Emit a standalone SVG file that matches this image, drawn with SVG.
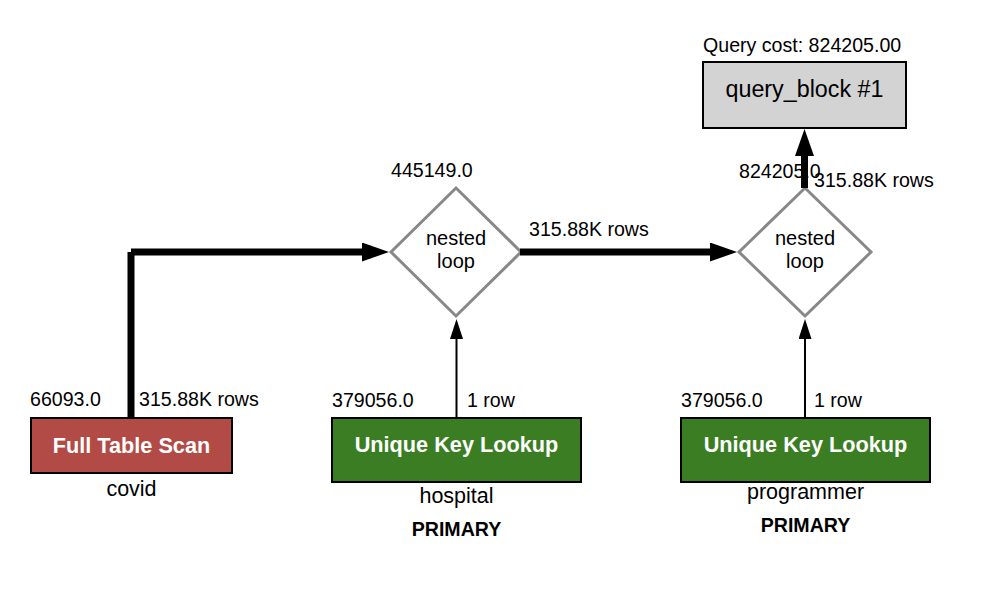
<svg xmlns="http://www.w3.org/2000/svg" width="994" height="604" viewBox="0 0 994 604">
<style>
text{font-family:"Liberation Sans",Arial,Helvetica,sans-serif;fill:#000}
.lbl{font-size:19.6px}
.nm{font-size:21.5px}
.nl{font-size:20px;text-anchor:middle}
.ttl{font-size:21.7px;font-weight:bold;fill:#fff;text-anchor:middle}
.key{font-size:19.6px;font-weight:bold;text-anchor:middle}
.mid{text-anchor:middle}
.box{stroke:#000;stroke-width:2}
.dia{fill:#fff;stroke:#888;stroke-width:3}
.thick{fill:none;stroke:#000;stroke-width:7}
.thin{fill:none;stroke:#000;stroke-width:2}
</style>
<defs>
<marker id="ah" markerUnits="userSpaceOnUse" markerWidth="28" markerHeight="20" refX="1" refY="9.5" orient="auto"><path d="M0,0 L27,9.5 L0,19 z" fill="#000"/></marker>
<marker id="ahs" markerUnits="userSpaceOnUse" markerWidth="21" markerHeight="14" refX="1" refY="6.5" orient="auto"><path d="M0,0 L20,6.5 L0,13 z" fill="#000"/></marker>
</defs>
<rect width="994" height="604" fill="#fff"/>
<g id="query_block">
<text class="lbl" x="703" y="52">Query cost: 824205.00</text>
<rect class="box" x="703" y="62" width="203" height="66" fill="#d3d3d3"/>
<text class="mid" x="804.5" y="97" font-size="23.3">query_block #1</text>
</g>
<g id="nested_loop_1">
<text class="lbl" x="391" y="177">445149.0</text>
<polygon class="dia" points="456,188 521,252 456,316 391,252"/>
<text class="nl" x="456" y="245">nested</text>
<text class="nl" x="456" y="268">loop</text>
</g>
<g id="nested_loop_2">
<text class="lbl" x="739" y="177.5">824205.0</text>
<polygon class="dia" points="805,188 871,252 805,316 739,252"/>
<text class="nl" x="805" y="245">nested</text>
<text class="nl" x="805" y="268">loop</text>
</g>
<g id="full_table_scan">
<text class="lbl" x="30" y="406">66093.0</text>
<rect class="box" x="31" y="418" width="201" height="55" fill="#b24a46"/>
<text class="ttl" x="131.5" y="453">Full Table Scan</text>
<text class="nm mid" x="131.5" y="496">covid</text>
</g>
<g id="unique_key_lookup_1">
<text class="lbl" x="332" y="407">379056.0</text>
<rect class="box" x="332" y="418" width="249" height="64" fill="#3a7d23"/>
<text class="ttl" x="456.5" y="452">Unique Key Lookup</text>
<text class="nm mid" x="456.5" y="503">hospital</text>
<text class="key" x="456.5" y="536">PRIMARY</text>
</g>
<g id="unique_key_lookup_2">
<text class="lbl" x="681" y="407">379056.0</text>
<rect class="box" x="681" y="418" width="249" height="64" fill="#3a7d23"/>
<text class="ttl" x="805.5" y="452">Unique Key Lookup</text>
<text class="nm mid" x="805.5" y="499">programmer</text>
<text class="key" x="805.5" y="532">PRIMARY</text>
</g>
<g id="connectors">
<path class="thick" d="M131,418 V252 M131,252 H363" marker-end="url(#ah)"/>
<text class="lbl" x="139" y="406">315.88K rows</text>
<path class="thick" d="M520,252 H711" marker-end="url(#ah)"/>
<text class="lbl" x="529" y="236">315.88K rows</text>
<path class="thick" d="M804.5,188 V155" marker-end="url(#ah)"/>
<text class="lbl" x="814" y="187">315.88K rows</text>
<path class="thin" d="M456.5,418 V338" marker-end="url(#ahs)"/>
<text class="lbl" x="467" y="407">1 row</text>
<path class="thin" d="M805,418 V338" marker-end="url(#ahs)"/>
<text class="lbl" x="814" y="407">1 row</text>
</g>
</svg>
